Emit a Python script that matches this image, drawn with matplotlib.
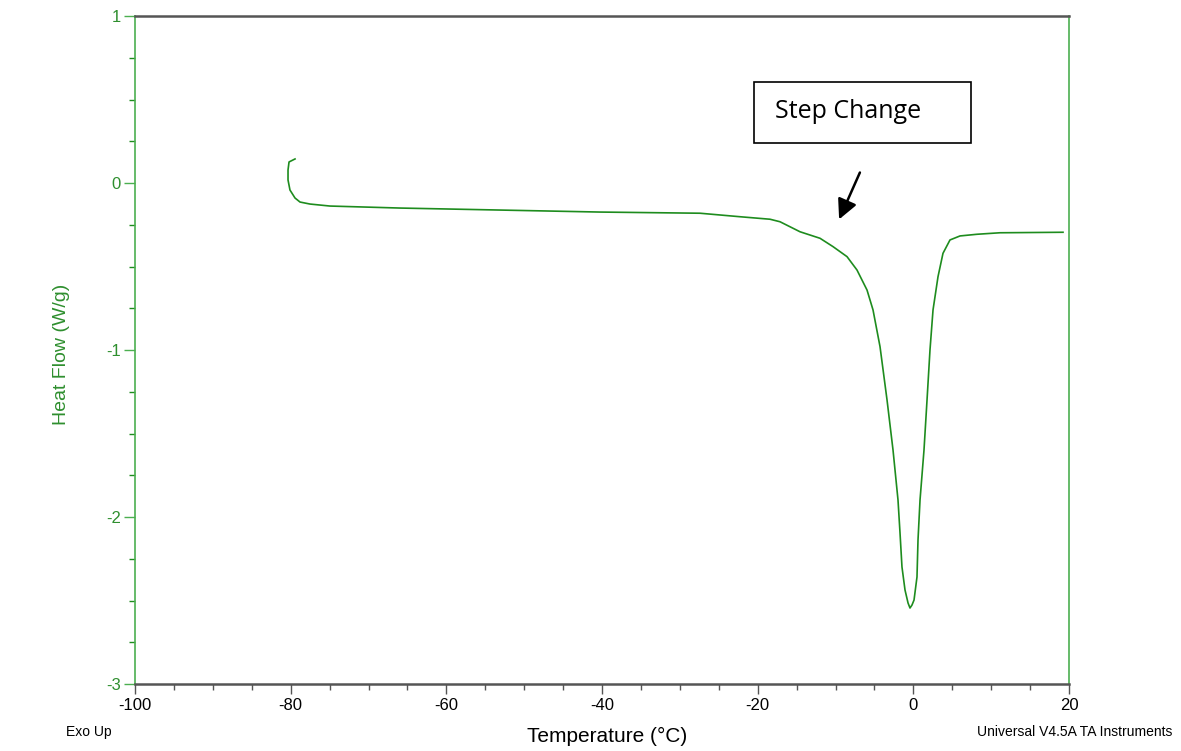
import matplotlib
matplotlib.use("Agg")
import matplotlib.pyplot as plt
from matplotlib.patches import Rectangle
from matplotlib.ticker import MultipleLocator

# DSC trace (temperature in C, heat flow in W/g)
temperature = [-79.44, -80.21, -80.34, -80.34, -80.09, -79.44, -78.8, -77.52, -74.95,
               -65.95, -53.1, -40.26, -27.41, -22.27, -18.41, -17.13, -14.56, -11.99,
               -10.32, -8.52, -7.24, -5.95, -5.18, -4.28, -3.38, -2.61, -1.97, -1.71,
               -1.46, -1.07, -0.68, -0.43, -0.17, 0.09, 0.47, 0.60, 0.86, 1.37, 1.76,
               2.14, 2.53, 3.17, 3.81, 4.71, 6.00, 8.18, 11.13, 19.23]
heat_flow = [0.144, 0.126, 0.078, 0.018, -0.042, -0.090, -0.114, -0.126, -0.138,
             -0.150, -0.162, -0.174, -0.181, -0.202, -0.217, -0.232, -0.292, -0.331,
             -0.381, -0.441, -0.521, -0.641, -0.760, -0.980, -1.299, -1.599, -1.898,
             -2.096, -2.299, -2.437, -2.515, -2.545, -2.527, -2.497, -2.359, -2.138,
             -1.898, -1.599, -1.299, -1.000, -0.760, -0.561, -0.421, -0.341, -0.317,
             -0.307, -0.298, -0.295]

x_ticks = [-100, -80, -60, -40, -20, 0, 20]
y_ticks = [-3, -2, -1, 0, 1]

GREEN = "#1e8c1e"
AXIS_GREEN = "#4caf50"
LABEL_GREEN = "#2f8f2f"
GRAY = "#555555"

plt.rcParams["font.family"] = ["Liberation Sans", "DejaVu Sans"]
plt.rcParams["axes.unicode_minus"] = False

fig = plt.figure(figsize=(11.81, 7.51), dpi=100)
ax = fig.add_axes([135 / 1181, 1 - 684 / 751, 934 / 1181, 668 / 751])

ax.plot(temperature, heat_flow, color=GREEN, lw=1.2)

ax.set_xlim(-100, 20)
ax.set_ylim(-3, 1)
ax.set_xticks(x_ticks)
ax.set_yticks(y_ticks)
ax.xaxis.set_minor_locator(MultipleLocator(5))
ax.yaxis.set_minor_locator(MultipleLocator(0.25))

for side in ["top", "bottom"]:
    ax.spines[side].set_color(GRAY)
    ax.spines[side].set_linewidth(1.8)
for side in ["left", "right"]:
    ax.spines[side].set_color(AXIS_GREEN)
    ax.spines[side].set_linewidth(1.2)

ax.tick_params(axis="x", which="major", length=7, width=1, color=GRAY,
               labelsize=12, pad=3)
ax.tick_params(axis="x", which="minor", length=4, width=1, color=GRAY)
ax.tick_params(axis="y", which="major", length=8, width=1, color=AXIS_GREEN,
               labelsize=12, labelcolor=LABEL_GREEN, pad=2)
ax.tick_params(axis="y", which="minor", length=4, width=1, color=GREEN)

ax.set_ylabel("Heat Flow (W/g)", color=LABEL_GREEN, fontsize=14)
ax.yaxis.set_label_coords(-0.0696, 0.493)

fig.text(607 / 1181, 1 - 736 / 751, "Temperature (°C)", fontsize=15,
         ha="center", va="center")
fig.text(66 / 1181, 1 - 732 / 751, "Exo Up", fontsize=10, ha="left", va="center")
fig.text(1172 / 1181, 1 - 732 / 751, "Universal V4.5A TA Instruments", fontsize=10,
         ha="right", va="center")

# annotation box and arrow
ax.add_patch(Rectangle((-20.47, 0.240), 27.88, 0.365, fill=False, ec="black",
                       lw=1.2, clip_on=False))
ax.text(-17.77, 0.431, "Step Change", fontsize=18, ha="left", va="center",
        family=["Open Sans", "DejaVu Sans"])
ax.annotate("", xy=(-9.68, -0.233), xytext=(-6.72, 0.078),
            arrowprops=dict(arrowstyle="-|>", color="black", lw=1.8,
                            mutation_scale=30))

fig.savefig("out.png", dpi=100, facecolor="white")
